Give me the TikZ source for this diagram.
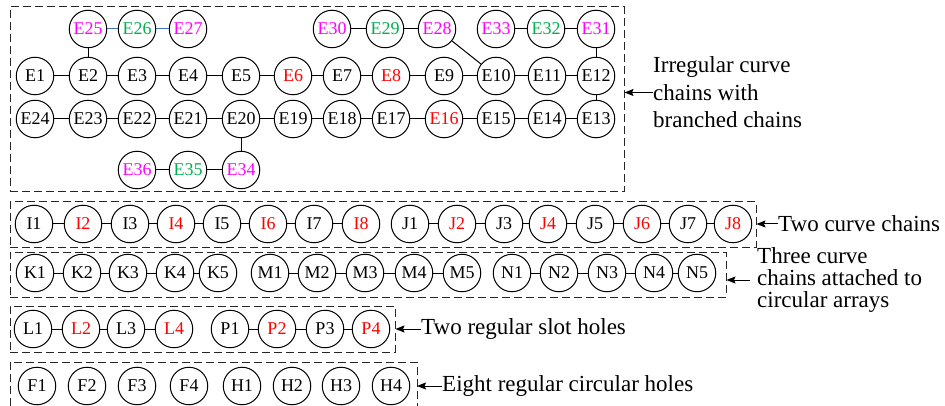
\documentclass[tikz,border=0pt]{standalone}
\usepackage{fontspec}
\setmainfont{Liberation Serif}
\usetikzlibrary{arrows.meta}
\definecolor{cred}{RGB}{255,0,0}
\definecolor{cmag}{RGB}{255,0,255}
\definecolor{cgrn}{RGB}{0,176,80}
\definecolor{cblu}{RGB}{68,114,196}
\definecolor{cblk}{RGB}{0,0,0}
\begin{document}
\begin{tikzpicture}[x=1pt,y=-1pt,
  hole/.style={circle,draw,line width=1pt,minimum size=37.5pt,inner sep=0pt,font=\fontsize{18}{18}\selectfont},
  link/.style={line width=1pt},
  frame/.style={draw,dash pattern=on 8pt off 4pt,line width=1pt,black!85,rectangle,inner sep=0pt},
  lab/.style={anchor=west,inner sep=0pt,align=left},
  arr/.style={line width=1pt,-{Stealth[length=9pt,width=7pt,inset=1.5pt]}}
]
\useasboundingbox (0,0) rectangle (945,406);

% frames
\node[frame,minimum width=614pt,minimum height=185pt] (bA) at (317,99.5) {};
\node[frame,minimum width=746pt,minimum height=45pt] (bB) at (383,224.5) {};
\node[frame,minimum width=716pt,minimum height=45pt] (bC) at (368,274.5) {};
\node[frame,minimum width=385pt,minimum height=46pt] (bD) at (202.5,329) {};
\draw[dash pattern=on 8pt off 4pt,line width=1pt,black!85] (10,406) -- (10,362) -- (417,362) -- (417,406);
\coordinate (bE) at (417,386);

% E nodes
\foreach \n/\x/\y/\c in {
  E25/88/29/cmag, E26/137/29/cgrn, E27/188/29/cmag,
  E30/332/29/cmag, E29/385/29/cgrn, E28/437/29/cmag,
  E33/496/29/cmag, E32/546/29/cgrn, E31/596/29/cmag,
  E1/35/76/cblk, E2/88/76/cblk, E3/137/76/cblk, E4/188/76/cblk, E5/241/76/cblk, E6/293/76/cred,
  E7/342/76/cblk, E8/391/76/cred, E9/444/76/cblk, E10/496/76/cblk, E11/547/76/cblk, E12/596/76/cblk,
  E24/35/119/cblk, E23/88/119/cblk, E22/137/119/cblk, E21/188/119/cblk, E20/241/119/cblk, E19/293/119/cblk,
  E18/342/119/cblk, E17/391/119/cblk, E16/444/119/cred, E15/496/119/cblk, E14/547/119/cblk, E13/596/119/cblk,
  E36/137/170/cmag, E35/188/170/cgrn, E34/241/170/cmag}
  \node[hole,text=\c] (\n) at (\x,\y) {\n};

% I/J
\foreach \n/\x/\c in {I1/34/cblk, I2/83/cred, I3/130/cblk, I4/176/cred, I5/222/cblk, I6/268/cred, I7/314/cblk, I8/361/cred,
  J1/410/cblk, J2/457/cred, J3/504/cblk, J4/548/cred, J5/595/cblk, J6/642/cred, J7/688/cblk, J8/733/cred}
  \node[hole,text=\c] (\n) at (\x,224) {\n};
% K/M/N
\foreach \n/\x in {K1/35, K2/82, K3/128, K4/175, K5/218, M1/270, M2/317, M3/365, M4/414, M5/462,
  N1/512, N2/559, N3/607, N4/654, N5/697}
  \node[hole] (\n) at (\x,273) {\n};
% L/P
\foreach \n/\x/\c in {L1/33/cblk, L2/81/cred, L3/126/cblk, L4/174/cred, P1/230/cblk, P2/277/cred, P3/325/cblk, P4/371/cred}
  \node[hole,text=\c] (\n) at (\x,329) {\n};
% F/H
\foreach \n/\x in {F1/37, F2/87, F3/137, F4/189, H1/242, H2/292, H3/341, H4/391}
  \node[hole] (\n) at (\x,386) {\n};

% links
\foreach \a/\b in {E1/E2, E2/E3, E3/E4, E4/E5, E5/E6, E6/E7, E7/E8, E8/E9, E9/E10, E10/E11, E11/E12,
  E24/E23, E23/E22, E22/E21, E21/E20, E20/E19, E19/E18, E18/E17, E17/E16, E16/E15, E15/E14, E14/E13,
  E12/E13, E2/E25, E30/E29, E29/E28, E28/E10, E33/E32, E32/E31, E31/E12, E20/E34, E34/E35, E35/E36,
  I1/I2, I2/I3, I3/I4, I4/I5, I5/I6, I6/I7, I7/I8,
  J1/J2, J2/J3, J3/J4, J4/J5, J5/J6, J6/J7, J7/J8,
  K1/K2, K2/K3, K3/K4, K4/K5, M1/M2, M2/M3, M3/M4, M4/M5, N1/N2, N2/N3, N3/N4, N4/N5,
  L1/L2, L2/L3, L3/L4, P1/P2, P2/P3, P3/P4}
  \draw[link] (\a) -- (\b);
\draw[link,cblu] (E25) -- (E26);
\draw[link,cblu] (E26) -- (E27);

% labels
\node[lab,font=\fontsize{23}{27.5}\selectfont] (tA) at (653,92.5) {Irregular curve\\chains with\\branched chains};
\node[lab,font=\fontsize{23}{23}\selectfont] (tB) at (778,224) {Two curve chains};
\node[lab,font=\fontsize{23}{22}\selectfont] (tC) at (757,280) {Three curve\\chains attached to\\circular arrays};
\node[lab,font=\fontsize{23}{23}\selectfont] (tD) at (421,329) {Two regular slot holes};
\node[lab,font=\fontsize{23}{23}\selectfont] (tE) at (442,386) {Eight regular circular holes};

\draw[arr] (tA.west) -- (bA.east |- tA.west);
\draw[arr] (tB.west) -- (bB.east |- tB.west);
\draw[arr] ([xshift=-7pt]tC.west) -- (bC.east |- tC.west);
\draw[arr] (tD.west) -- (bD.east |- tD.west);
\draw[arr] (tE.west) -- (bE);
\end{tikzpicture}
\end{document}
